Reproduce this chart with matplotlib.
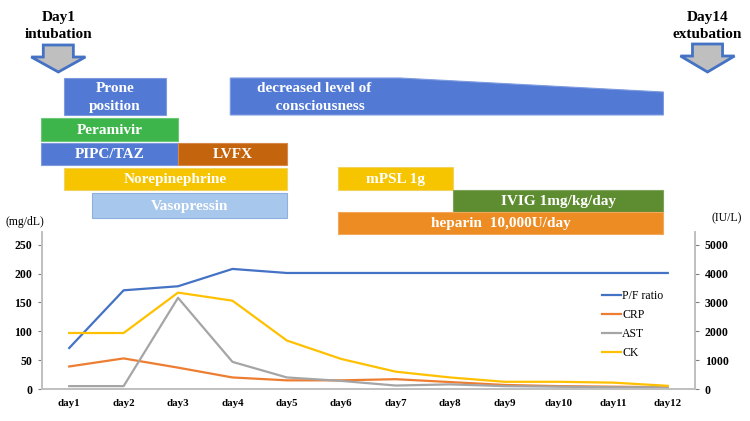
import numpy as np
import matplotlib
matplotlib.use("Agg")
import matplotlib.pyplot as plt
from matplotlib.patches import Polygon

plt.rcParams['font.family'] = ['Liberation Serif', 'DejaVu Serif']

days = ["day1", "day2", "day3", "day4", "day5", "day6",
        "day7", "day8", "day9", "day10", "day11", "day12"]
pf_ratio = [71, 171, 178, 208, 201, 201, 201, 201, 201, 201, 201, 201]
crp = [39, 53, 37, 20, 15, 15, 17, 12, 7, 5, 4, 3]
ast = [100, 100, 3160, 940, 400, 280, 120, 160, 100, 80, 60, 60]
ck = [1940, 1940, 3340, 3060, 1680, 1040, 600, 400, 250, 250, 220, 110]

# treatment bars: label, start, end (in day axis units)
bar_labels = ["Prone\nposition", "Peramivir", "PIPC/TAZ", "LVFX", "Norepinephrine",
              "Vasopressin", "mPSL 1g", "IVIG 1mg/kg/day", "heparin  10,000U/day"]
bar_start = [-0.09, -0.52, -0.52, 2.0, -0.09, 0.41, 4.94, 7.05, 4.94]
bar_end = [1.77, 2.0, 2.0, 4.0, 4.0, 4.0, 7.05, 10.92, 10.92]
# consciousness bar (tapered)
dloc_start, dloc_flat, dloc_end = 2.96, 6.08, 10.92

# layout (figure pixel rows, top, bottom)
bar_rows = [(78, 115), (118, 141), (143, 165), (143, 165), (168, 190),
            (193, 218), (167, 190), (190, 212), (212, 234)]
bar_colors = ["#5279D3", "#3DB54B", "#5279D3", "#C4640C", "#F6C500",
              "#A8C7EC", "#F6C500", "#5E8C30", "#EC8C22"]
bar_edges = ["#7E9BE0", "#6CC877", "#7E9BE0", "#D8884A", "#F0D360",
             "#8FB0DE", "#F0D360", "#7FA35A", "#F2A85A"]

W, H = 750, 421
fig = plt.figure(figsize=(7.5, 4.21), dpi=100)
ax_l, ax_r = 42, 695
ax_top_px, ax_bot_px = 232, 389
ax = fig.add_axes([ax_l / W, 1 - ax_bot_px / H, (ax_r - ax_l) / W, (ax_bot_px - ax_top_px) / H])
ax2 = ax.twinx()

x = np.arange(len(days))
l1, = ax.plot(x, pf_ratio, color="#4472C4", lw=1.6, label="P/F ratio")
l2, = ax.plot(x, crp, color="#ED7D31", lw=1.6, label="CRP")
l3, = ax2.plot(x, ast, color="#A5A5A5", lw=1.6, label="AST")
l4, = ax2.plot(x, ck, color="#FFC000", lw=1.6, label="CK")

ax.set_xlim(-0.5, 11.5)
ax.set_ylim(0, 272)
ax2.set_ylim(0, 5440)
ax.set_yticks([0, 50, 100, 150, 200, 250])
ax2.set_yticks([0, 1000, 2000, 3000, 4000, 5000])
ax.set_xticks(x)
ax.set_xticklabels(days, fontsize=7.8, fontweight="bold")
ax.tick_params(axis="x", length=0, pad=7)
ax.tick_params(axis="y", length=3, width=0.8, color="#7F7F7F", pad=4)
ax2.tick_params(axis="y", length=3, width=0.8, color="#7F7F7F", pad=4)
for t in ax.get_yticklabels() + ax2.get_yticklabels():
    t.set_fontsize(8.5)
    t.set_fontweight("bold")
for a in (ax, ax2):
    a.spines["top"].set_visible(False)
    for s in ("left", "right", "bottom"):
        a.spines[s].set_color("#BFBFBF")
        a.spines[s].set_linewidth(1.2)
    a.patch.set_visible(False)

ax.legend(handles=[l1, l2, l3, l4], loc="upper left", bbox_to_anchor=(0.857, 0.63),
          frameon=False, fontsize=8.5, handlelength=1.6, handletextpad=0.15,
          labelspacing=0.6, borderaxespad=0, borderpad=0)

fig.text(5 / W, 1 - 222 / H, "(mg/dL)", fontsize=8.5, va="center", ha="left")
fig.text(742 / W, 1 - 218 / H, "(IU/L)", fontsize=8.5, va="center", ha="right")

# timeline axes above the chart, x shares day units, y in pixel rows
axt = fig.add_axes([ax_l / W, 1 - ax_top_px / H, (ax_r - ax_l) / W, ax_top_px / H])
axt.set_xlim(-0.5, 11.5)
axt.set_ylim(ax_top_px, 0)
axt.axis("off")

for lab, s, e, (top, bot), c, ec in zip(bar_labels, bar_start, bar_end, bar_rows, bar_colors, bar_edges):
    axt.add_patch(Polygon([(s, top), (e, top), (e, bot), (s, bot)], closed=True,
                          facecolor=c, edgecolor=ec, lw=0.8, clip_on=False))
    axt.text((s + e) / 2, (top + bot) / 2 + 1, lab, color="white", fontsize=11,
             fontweight="bold", ha="center", va="center", linespacing=1.5)

axt.add_patch(Polygon([(dloc_start, 115), (dloc_start, 78), (dloc_flat, 78),
                       (dloc_end, 92), (dloc_end, 115)], closed=True,
                      facecolor="#5279D3", edgecolor="#7E9BE0", lw=0.8, clip_on=False))
axt.text(4.5, 98, "decreased level of\n   consciousness", color="white", fontsize=11,
         fontweight="bold", ha="center", va="center", linespacing=1.5)

px_per_day = (667 - 70) / 11.0


def down_arrow(cx, top, neck, tip):
    sh = 15 / px_per_day
    hd = 27 / px_per_day
    pts = [(cx - sh, top), (cx + sh, top), (cx + sh, neck), (cx + hd, neck),
           (cx, tip), (cx - hd, neck), (cx - sh, neck)]
    axt.add_patch(Polygon(pts, closed=True, facecolor="#BFBFBF", edgecolor="#4472C4",
                          lw=2, clip_on=False, joinstyle="miter"))


down_arrow(-0.2, 45, 57, 72)
down_arrow(11.73, 44, 56, 72)
axt.text(-0.2, 17, "Day1", fontsize=11, fontweight="bold", ha="center", va="center", clip_on=False)
axt.text(-0.2, 35, "intubation", fontsize=11, fontweight="bold", ha="center", va="center", clip_on=False)
axt.text(11.73, 17, "Day14", fontsize=11, fontweight="bold", ha="center", va="center", clip_on=False)
axt.text(11.73, 35, "extubation", fontsize=11, fontweight="bold", ha="center", va="center", clip_on=False)

fig.savefig("out.png", dpi=100)
